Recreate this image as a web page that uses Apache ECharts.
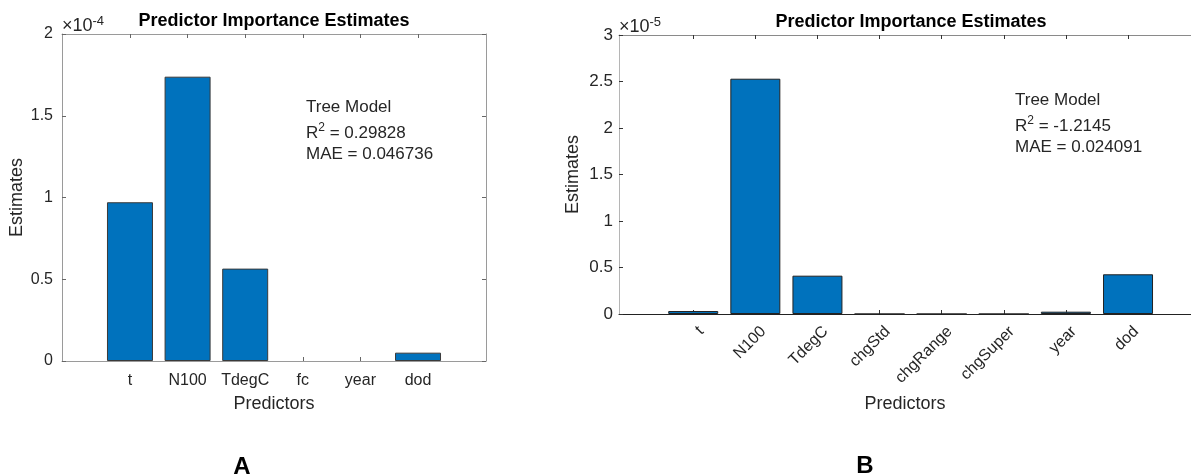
<!DOCTYPE html>
<html>
<head>
<meta charset="utf-8">
<script src="https://cdn.jsdelivr.net/npm/echarts@6/dist/echarts.min.js"></script>
<style>
html,body{margin:0;padding:0;background:#fff;overflow:hidden;}
#chart{width:1191px;height:474px;}
</style>
</head>
<body>
<div id="chart"></div>
<script>
// ---- Panel A data (values shown in units of 10^-4) ----
const aCategories = ['t', 'N100', 'TdegC', 'fc', 'year', 'dod'];
const aEstimates = [0.971, 1.739, 0.565, 0, 0, 0.051];
const aExponent = '-4';
const aStats = { r2: '0.29828', mae: '0.046736' };

// ---- Panel B data (values shown in units of 10^-5) ----
const bCategories = ['t', 'N100', 'TdegC', 'chgStd', 'chgRange', 'chgSuper', 'year', 'dod'];
const bEstimates = [0.032, 2.53, 0.412, 0, 0, 0, 0.025, 0.427];
const bExponent = '-5';
const bStats = { r2: '-1.2145', mae: '0.024091' };

const yTicksA = { min: 0, max: 2, interval: 0.5 };
const yTicksB = { min: 0, max: 3, interval: 0.5 };

const FONT = "'Liberation Sans', Arial, Helvetica, sans-serif";
const TXT = '#262626';

const chart = echarts.init(document.getElementById('chart'), null, { renderer: 'canvas' });

function positions(cats) { return cats.map((c, i) => i + 1); }

function xAxisBottom(grid, cats, range, opts) {
  const shift = opts.labelShift || 0;
  return {
    type: 'value', gridIndex: grid, position: 'bottom', min: range[0], max: range[1],
    axisLine: { show: true, onZero: false, lineStyle: { color: opts.lineColor, width: 1 } },
    axisTick: { show: true, inside: true, length: 4, customValues: positions(cats), lineStyle: { color: opts.tickColor } },
    axisLabel: {
      show: true, customValues: positions(cats).map(p => p + shift), margin: opts.labelMargin, rotate: opts.rotate || 0,
      fontFamily: FONT, fontSize: opts.fontSize, color: TXT,
      formatter: v => cats[Math.round(v) - 1] || ''
    },
    splitLine: { show: false },
    name: 'Predictors', nameLocation: 'middle', nameGap: opts.nameGap,
    nameTextStyle: { fontFamily: FONT, fontSize: 18, color: TXT }
  };
}
function xAxisTop(grid, cats, range, color, tickColor) {
  return {
    type: 'value', gridIndex: grid, position: 'top', min: range[0], max: range[1],
    axisLine: { show: true, onZero: false, lineStyle: { color: color, width: 1 } },
    axisTick: { show: true, inside: true, length: 4, customValues: positions(cats), lineStyle: { color: tickColor } },
    axisLabel: { show: false }, splitLine: { show: false }
  };
}
function yAxisLeft(grid, t, opts) {
  return {
    type: 'value', gridIndex: grid, position: 'left', min: t.min, max: t.max, interval: t.interval,
    axisLine: { show: true, onZero: false, lineStyle: { color: opts.lineColor, width: 1 } },
    axisTick: { show: true, inside: true, length: 4, lineStyle: { color: opts.tickColor } },
    axisLabel: { show: true, margin: opts.labelMargin, fontFamily: FONT, fontSize: opts.fontSize, color: TXT,
      formatter: v => String(Math.round(v * 10) / 10) },
    splitLine: { show: false },
    name: 'Estimates', nameLocation: 'middle', nameGap: opts.nameGap, nameRotate: 90,
    nameTextStyle: { fontFamily: FONT, fontSize: 18, color: TXT }
  };
}
function yAxisRight(grid, t, color, tickColor) {
  return {
    type: 'value', gridIndex: grid, position: 'right', min: t.min, max: t.max, interval: t.interval,
    axisLine: { show: true, onZero: false, lineStyle: { color: color, width: 1 } },
    axisTick: { show: true, inside: true, length: 4, lineStyle: { color: tickColor } },
    axisLabel: { show: false }, splitLine: { show: false }
  };
}

const rangeA = [-0.18, 7.18];
const rangeB = [-0.195, 9.014];

const richStats = {
  n: { fontFamily: FONT, fontSize: 17, color: TXT, lineHeight: 22 },
  s: { fontFamily: FONT, fontSize: 12, color: TXT, lineHeight: 6, verticalAlign: 'top' }
};
const richExp = {
  n: { fontFamily: FONT, fontSize: 18, color: TXT, lineHeight: 22 },
  s: { fontFamily: FONT, fontSize: 13, color: TXT, lineHeight: 8, verticalAlign: 'top' }
};

function txt(x, y, text, size, opts) {
  opts = opts || {};
  return {
    type: 'text', x: x, y: y, silent: true,
    style: {
      text: text, fontFamily: FONT, fontSize: size, fontWeight: opts.bold ? 'bold' : 'normal',
      fill: opts.color || TXT, align: opts.align || 'left', verticalAlign: 'middle',
      rich: opts.rich
    }
  };
}

function barData(values, hideZero) {
  return values.map((v, i) => {
    const item = { value: [i + 1, v] };
    if (hideZero && v === 0) item.itemStyle = { borderWidth: 0 };
    return item;
  });
}

const option = {
  animation: false,
  backgroundColor: '#fff',
  grid: [
    { left: 62, top: 34, width: 424, height: 327, containLabel: false },
    { left: 619, top: 35, width: 572, height: 279, containLabel: false }
  ],
  xAxis: [
    xAxisBottom(0, aCategories, rangeA, { lineColor: '#9a9a9a', tickColor: '#666', labelMargin: 12, fontSize: 16, nameGap: 34 }),
    xAxisTop(0, aCategories, rangeA, '#9a9a9a', '#666'),
    xAxisBottom(1, bCategories, rangeB, { lineColor: '#222', tickColor: '#333', labelMargin: 15, labelShift: 0.13, fontSize: 16, rotate: 45, nameGap: 81 }),
    xAxisTop(1, bCategories, rangeB, '#8a8a8a', '#333')
  ],
  yAxis: [
    yAxisLeft(0, yTicksA, { lineColor: '#9a9a9a', tickColor: '#666', labelMargin: 9, fontSize: 16, nameGap: 36 }),
    yAxisRight(0, yTicksA, '#9a9a9a', '#666'),
    yAxisLeft(1, yTicksB, { lineColor: '#b5b5b5', tickColor: '#333', labelMargin: 6, fontSize: 17, nameGap: 37 })
  ],
  series: [
    {
      type: 'bar', xAxisIndex: 0, yAxisIndex: 0, barWidth: 46,
      data: barData(aEstimates, true),
      itemStyle: { color: '#0072BD', borderColor: '#3a3a3a', borderWidth: 1 }
    },
    {
      type: 'bar', xAxisIndex: 2, yAxisIndex: 2, barWidth: 50,
      data: barData(bEstimates, false),
      itemStyle: { color: '#0072BD', borderColor: '#222', borderWidth: 1 }
    }
  ],
  graphic: [
    txt(274, 21, 'Predictor Importance Estimates', 18, { bold: true, align: 'center', color: '#000' }),
    txt(911, 22, 'Predictor Importance Estimates', 18, { bold: true, align: 'center', color: '#000' }),
    txt(62, 26, '{n|×10}{s|' + aExponent + '}', 18, { rich: richExp }),
    txt(619, 27, '{n|×10}{s|' + bExponent + '}', 18, { rich: richExp }),
    txt(306, 107, 'Tree Model', 17),
    txt(306, 133, '{n|R}{s|2}{n| = ' + aStats.r2 + '}', 17, { rich: richStats }),
    txt(306, 154, 'MAE = ' + aStats.mae, 17),
    txt(1015, 100, 'Tree Model', 17),
    txt(1015, 126, '{n|R}{s|2}{n| = ' + bStats.r2 + '}', 17, { rich: richStats }),
    txt(1015, 147, 'MAE = ' + bStats.mae, 17),
    txt(242, 467, 'A', 24, { bold: true, align: 'center', color: '#000' }),
    txt(865, 466, 'B', 24, { bold: true, align: 'center', color: '#000' })
  ]
};
chart.setOption(option);
</script>
</body>
</html>
